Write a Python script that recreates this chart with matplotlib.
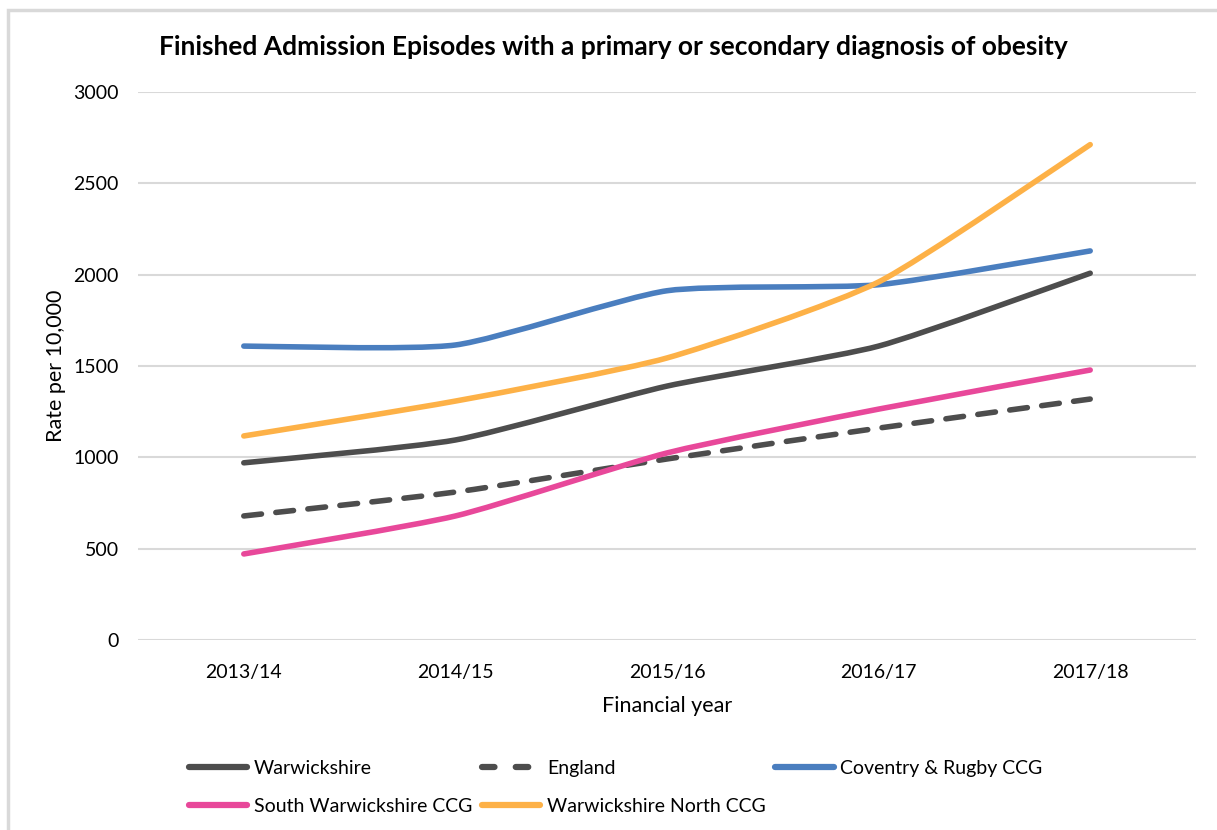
import matplotlib.pyplot as plt
import matplotlib
import numpy as np
from matplotlib.path import Path
from matplotlib.patches import PathPatch, Rectangle
from matplotlib.lines import Line2D

plt.rcParams['font.family'] = ['Lato', 'DejaVu Sans']

years = ['2013/14', '2014/15', '2015/16', '2016/17', '2017/18']
warwickshire = [970, 1095, 1390, 1609, 2008]
england = [679, 810, 991, 1160, 1319]
coventry_rugby = [1609, 1615, 1912, 1945, 2130]
south_warks = [471, 679, 1024, 1264, 1478]
warks_north = [1117, 1308, 1544, 1960, 2712]

series = [
    ('Warwickshire', warwickshire, '#4d4d4d', '-'),
    ('England', england, '#4d4d4d', '--'),
    ('Coventry & Rugby CCG', coventry_rugby, '#4a7ebf', '-'),
    ('South Warwickshire CCG', south_warks, '#e8489a', '-'),
    ('Warwickshire North CCG', warks_north, '#fdb147', '-'),
]


def smooth_path(xs, ys, k=10.0):
    # smoothed line: cubic bezier segments with soft catmull-rom handles
    pts = np.column_stack([xs, ys]).astype(float)
    n = len(pts)
    verts = [pts[0]]
    codes = [Path.MOVETO]
    for i in range(n - 1):
        p0 = pts[max(i - 1, 0)]
        p1 = pts[i]
        p2 = pts[i + 1]
        p3 = pts[min(i + 2, n - 1)]
        c1 = p1 + (p2 - p0) / k
        c2 = p2 - (p3 - p1) / k
        verts += [c1, c2, p2]
        codes += [Path.CURVE4] * 3
    return Path(verts, codes)


fig = plt.figure(figsize=(12.17, 8.3), dpi=100)
fig.patches.append(Rectangle((8 / 1217, -0.1), 1.2, 1.1 - 10 / 830,
                             transform=fig.transFigure, fill=False,
                             edgecolor='#d9d9d9', lw=2.5, zorder=0))

ax = fig.add_axes([138 / 1217, 1 - 640 / 830, (1196 - 138) / 1217, (640 - 92) / 830])
x = np.arange(len(years))

handles = {}
for name, vals, col, ls in series:
    patch = PathPatch(smooth_path(x, vals), fill=False, edgecolor=col, lw=4,
                      linestyle=(0, (3.2, 2.6)) if ls == '--' else '-',
                      capstyle='round', joinstyle='round', zorder=3)
    ax.add_patch(patch)
    handles[name] = Line2D([], [], color=col, lw=4.5, solid_capstyle='round',
                           dash_capstyle='round',
                           linestyle=(0, (2.0, 3.4)) if ls == '--' else '-')

ax.set_xlim(-0.5, 4.5)
ax.set_ylim(0, 3000)
ax.set_yticks(range(0, 3001, 500))
ax.set_xticks(x)
ax.set_xticklabels(years)
ax.grid(axis='y', color='#d9d9d9', lw=1.5)
ax.set_axisbelow(True)
for s in ax.spines.values():
    s.set_visible(False)
ax.tick_params(length=0, labelsize=14, colors='#000000', pad=14)
ax.tick_params(axis='x', pad=17)

ax.set_xlabel('Financial year', fontsize=15.5, labelpad=11)
ax.set_ylabel('Rate per 10,000', fontsize=15.5, labelpad=5)
fig.text(613 / 1217, 1 - 47 / 830, 'Finished Admission Episodes with a primary or secondary diagnosis of obesity',
         ha='center', va='center', fontsize=19, fontweight='bold')

# legend fills column by column, so order the entries to read row by row
order = ['Warwickshire', 'South Warwickshire CCG', 'England',
         'Warwickshire North CCG', 'Coventry & Rugby CCG']
leg = fig.legend([handles[n] for n in order], order, loc='upper left', ncol=3,
                 bbox_to_anchor=(171 / 1217, 1 - 742 / 830), frameon=False,
                 fontsize=14, handlelength=3.0, handletextpad=0.35,
                 columnspacing=0.5, labelspacing=1.1)

fig.savefig('out.png', dpi=100)
